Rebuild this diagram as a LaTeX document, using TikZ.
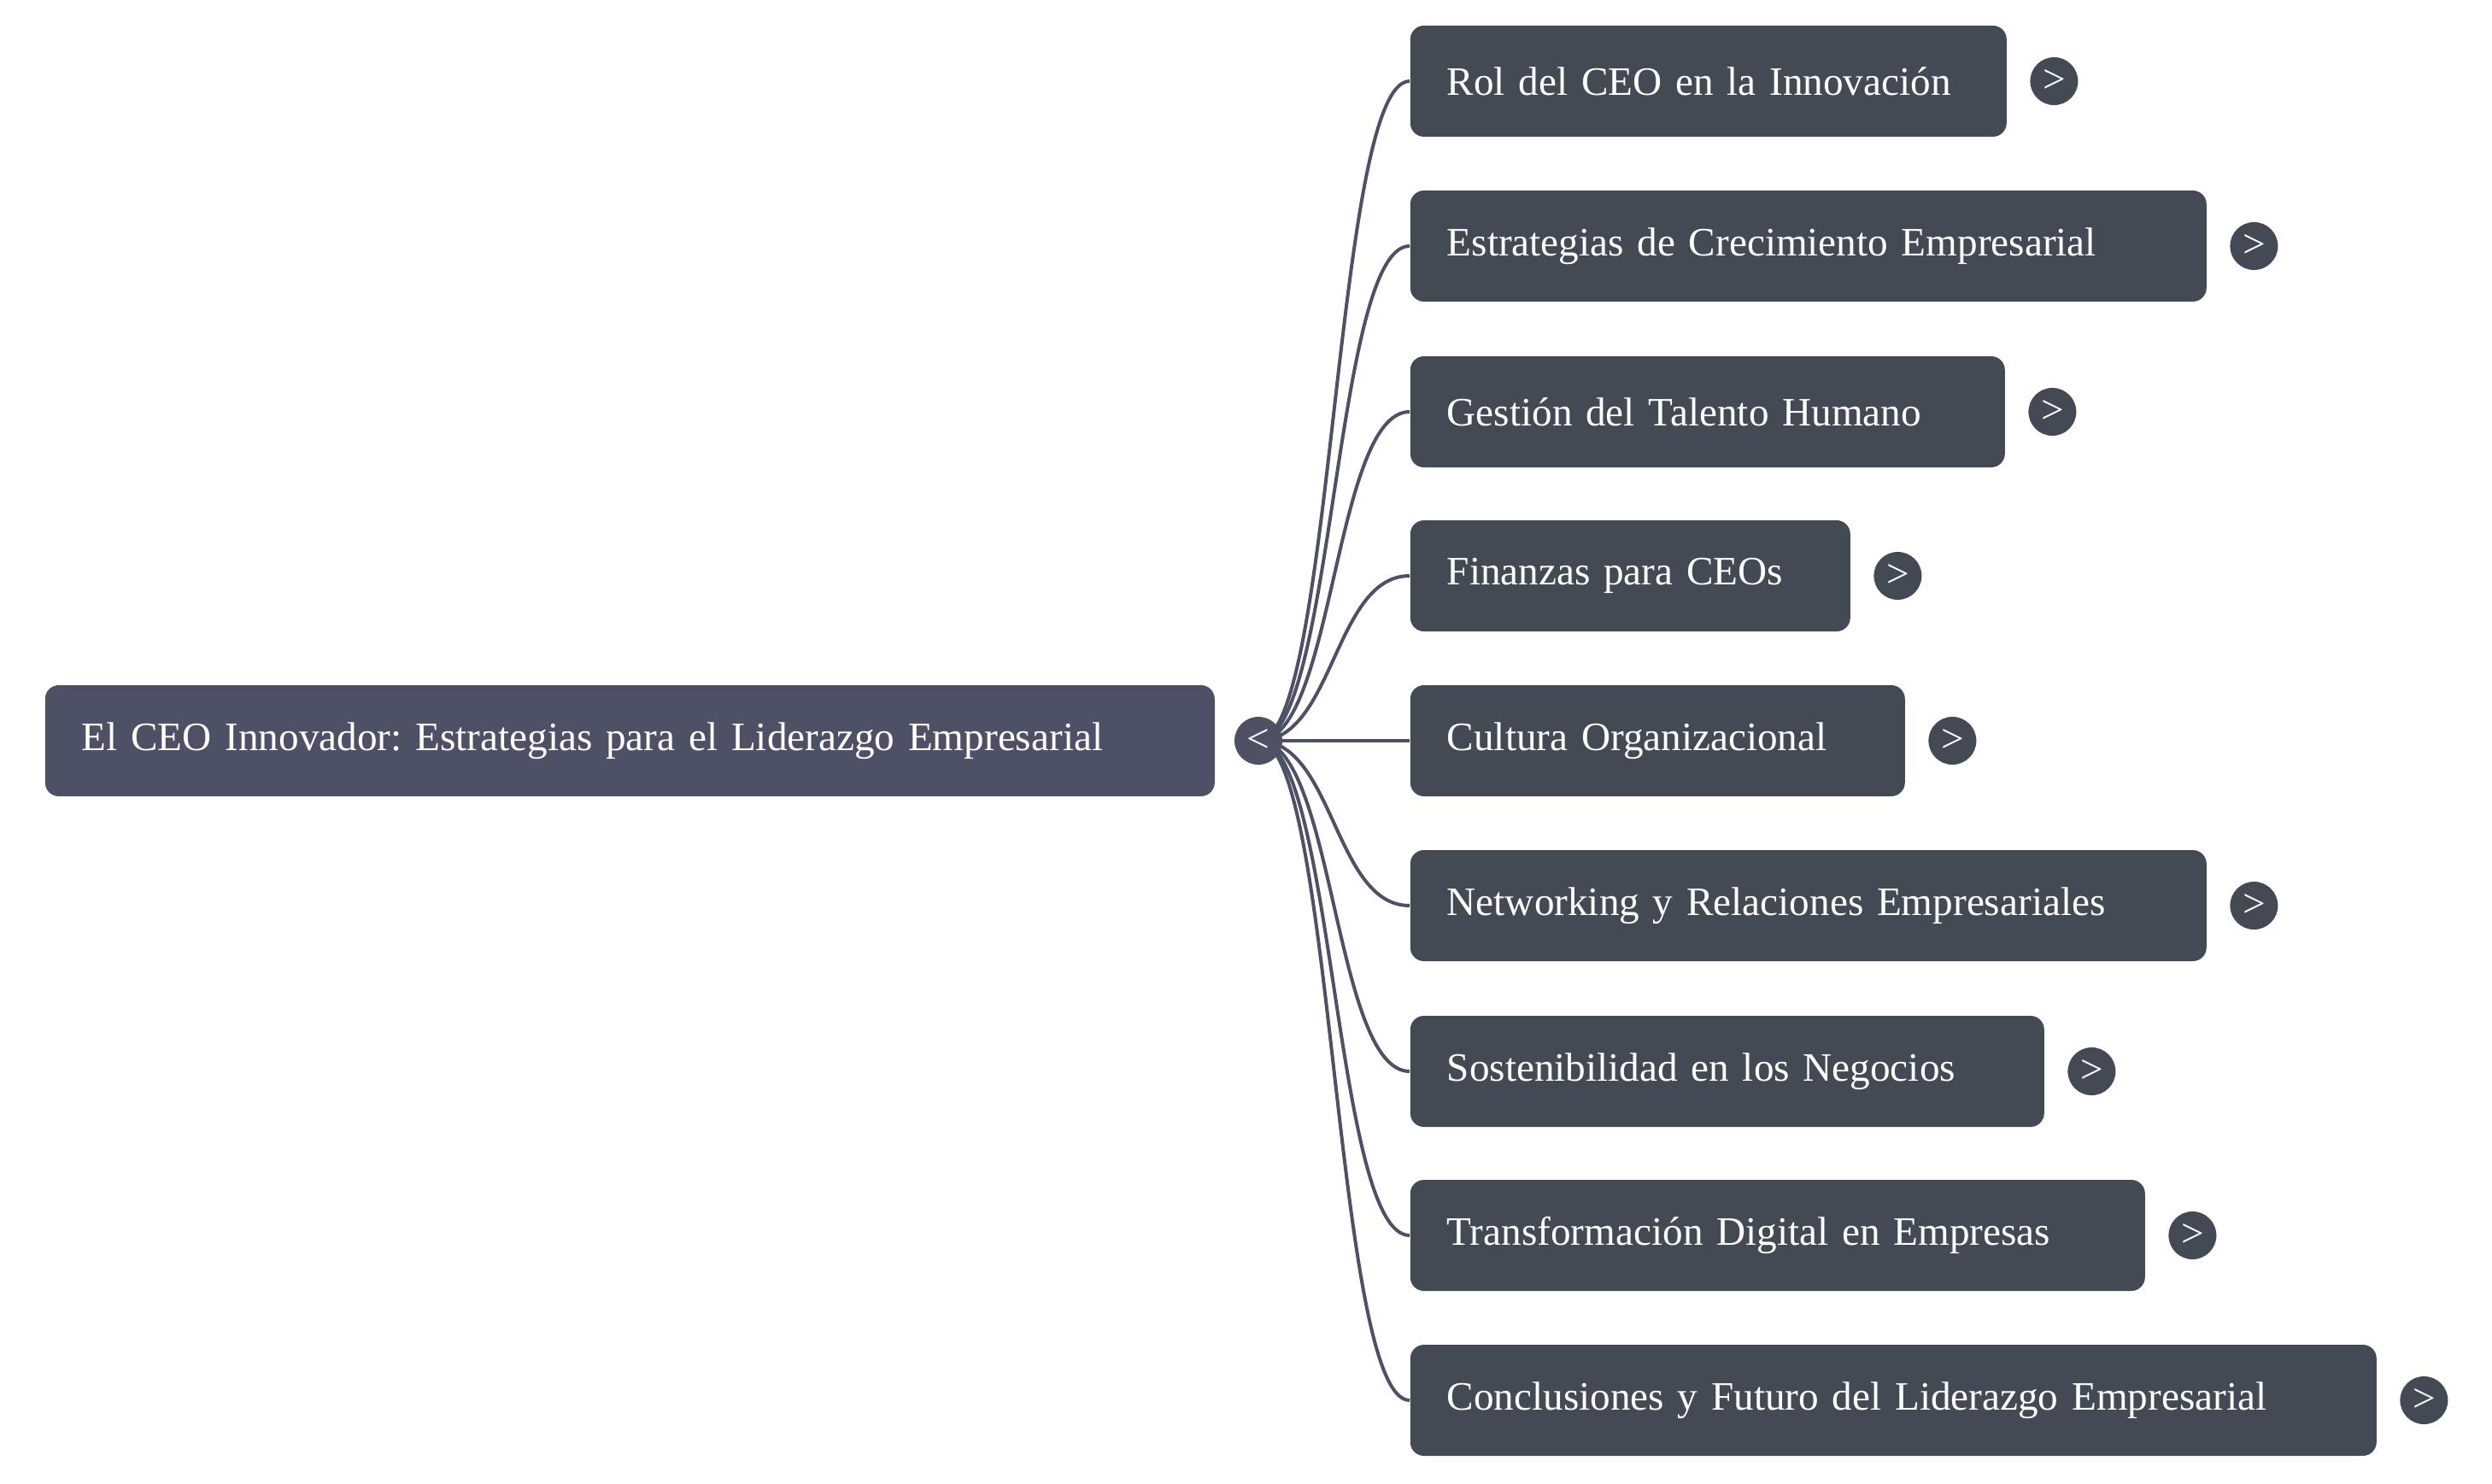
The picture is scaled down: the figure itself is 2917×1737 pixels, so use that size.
\documentclass[tikz,border=0pt]{standalone}
\usepackage{fontspec}
\setmainfont{Liberation Serif}
\usetikzlibrary{positioning}

\definecolor{rootfill}{HTML}{4E5066}
\definecolor{topicfill}{HTML}{434A54}

\tikzset{
  rootbox/.style={fill=rootfill, rounded corners=4pt, text=white, align=left,
    minimum height=32.5pt, inner xsep=10.75pt, inner ysep=0pt, anchor=west},
  topicbox/.style={fill=topicfill, rounded corners=4pt, text=white, align=left,
    minimum height=32.5pt, inner xsep=10.75pt, inner ysep=0pt, anchor=west},
  toggle/.style={circle, fill=#1, text=white, minimum size=14pt, inner sep=0pt},
  link/.style={draw=rootfill, line width=1pt},
}

\begin{document}
\frenchspacing
\begin{tikzpicture}[x=0.25pt, y=-0.25pt, font=\fontsize{11.8}{14}\selectfont]
  \useasboundingbox (0,0) rectangle (2917,1737);

  % raiz
  \node[rootbox, text width=320.75pt] (root) at (52,867)
    {El CEO Innovador: Estrategias para el Liderazgo Empresarial};
  \coordinate (hub) at (1473,867);

  % temas
  \foreach \i/\y/\w/\t in {
      1/95/153/{Rol del CEO en la Innovación},
      2/288/211.5/{Estrategias de Crecimiento Empresarial},
      3/482/152.5/{Gestión del Talento Humano},
      4/674/107.25/{Finanzas para CEOs},
      5/867/123.25/{Cultura Organizacional},
      6/1060/211.5/{Networking y Relaciones Empresariales},
      7/1254/164/{Sostenibilidad en los Negocios},
      8/1446/193.5/{Transformación Digital en Empresas},
      9/1639/261.25/{Conclusiones y Futuro del Liderazgo Empresarial}} {
    \node[topicbox, text width=\w pt] (t\i) at (1650,\y) {\t};
    \node[toggle=topicfill, right=6.5pt of t\i] (t\i x) {>};
    \draw[link] (hub) .. controls +(88.5,0) and +(-88.5,0) .. (t\i.west);
  }

  % boton
  \node[toggle=rootfill] (hubx) at (hub) {<};
\end{tikzpicture}
\end{document}
